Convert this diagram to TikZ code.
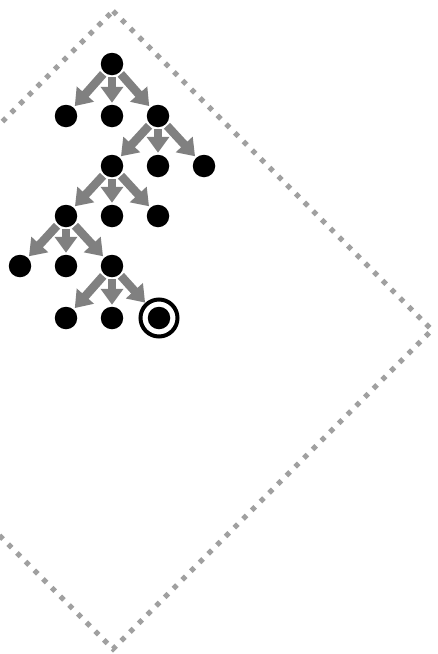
\documentclass[tikz,border=0pt]{standalone}
\usetikzlibrary{arrows.meta}
\definecolor{edgegray}{RGB}{128,128,128}
\definecolor{dotgray}{RGB}{160,160,160}
\tikzset{
  vert/.style={circle,fill=black,minimum size=22.5pt,inner sep=0pt,outer sep=2pt},
  arr/.style={draw=edgegray,line width=8.5pt,-{Triangle[length=16pt,width=22pt]}},
  frame/.style={draw=dotgray,line width=5pt,dash pattern=on 5pt off 7.3pt}
}
\begin{document}
\begin{tikzpicture}[x=1pt,y=-1pt]
\useasboundingbox (0,0) rectangle (438,654);
\clip (0,0) rectangle (438,654);
\coordinate (dt) at (113,11);
\coordinate (dr) at (432,330);
\coordinate (db) at (113,649);
\coordinate (dl) at (-206,330);
\draw[frame] (dt) -- (dr) -- (db) -- (dl) -- cycle;
% nodes
\node[vert] (r) at (112,64) {};
\node[vert] (a1) at (66,116) {};
\node[vert] (a2) at (112,116) {};
\node[vert] (a3) at (158,116) {};
\node[vert] (b1) at (112,166) {};
\node[vert] (b2) at (158,166) {};
\node[vert] (b3) at (204,166) {};
\node[vert] (c1) at (66,216) {};
\node[vert] (c2) at (112,216) {};
\node[vert] (c3) at (158,216) {};
\node[vert] (d1) at (20,266) {};
\node[vert] (d2) at (66,266) {};
\node[vert] (d3) at (112,266) {};
\node[vert] (e1) at (66,318) {};
\node[vert] (e2) at (112,318) {};
\node[vert] (e3) at (159,318) {};
\draw[line width=4pt] (e3.center) circle[radius=18.5pt];
% edges
\foreach \p/\c in {r/a1,r/a2,r/a3,a3/b1,a3/b2,a3/b3,b1/c1,b1/c2,b1/c3,c1/d1,c1/d2,c1/d3,d3/e1,d3/e2}
  \draw[arr] (\p) -- (\c);
\draw[arr,shorten >=7.5pt] (d3) -- (e3);
\end{tikzpicture}
\end{document}
